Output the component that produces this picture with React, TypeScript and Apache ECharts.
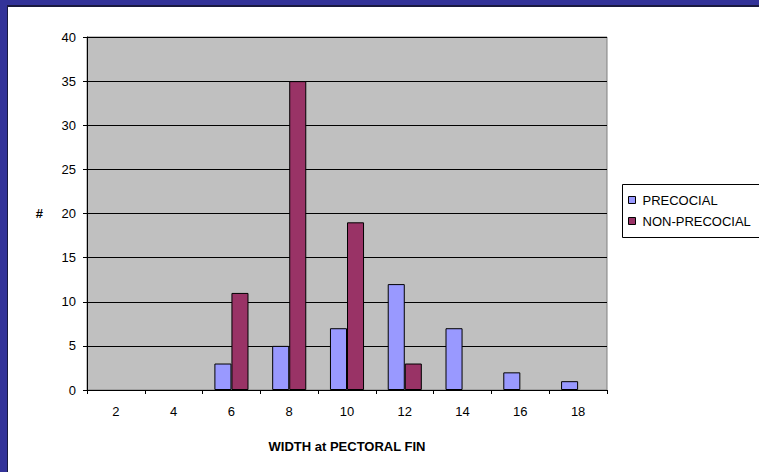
import React, { useEffect, useRef } from "react";
import * as echarts from "echarts";

const categories = ["2", "4", "6", "8", "10", "12", "14", "16", "18"];
const precocial = [0, 0, 3, 5, 7, 12, 7, 2, 1];
const nonPrecocial = [0, 0, 11, 35, 19, 3, 0, 0, 0];
const seriesNames = ["PRECOCIAL", "NON-PRECOCIAL"];
const xTitle = "WIDTH at PECTORAL FIN";
const yTitle = "#";

const FONT = "Arial, 'Liberation Sans', sans-serif";

const toData = (arr: number[]) =>
  arr.map((v) => (v === 0 ? { value: v, itemStyle: { borderWidth: 0, opacity: 0 } } : v));

export default function App() {
  const ref = useRef<HTMLDivElement>(null);
  useEffect(() => {
    if (!ref.current) return;
    const chart = echarts.init(ref.current, null, { renderer: "svg" });
    chart.setOption({
      animation: false,
      backgroundColor: "#ffffff",
      textStyle: { fontFamily: FONT },
      grid: {
        left: 87,
        right: 152,
        top: 37,
        bottom: 82,
        show: true,
        backgroundColor: "#C0C0C0",
        borderColor: "#808080",
        borderWidth: 1,
        containLabel: false,
      },
      legend: {
        orient: "vertical",
        left: 628,
        top: 193,
        padding: 0,
        itemWidth: 7,
        itemHeight: 7,
        itemGap: 7,
        icon: "rect",
        data: seriesNames,
        textStyle: {
          fontFamily: FONT,
          fontSize: 13,
          color: "#000",
          padding: [0, 0, 0, 2],
          lineHeight: 14,
        },
        itemStyle: { borderColor: "#000", borderWidth: 1, opacity: 1 },
      },
      xAxis: {
        type: "category",
        data: categories,
        boundaryGap: true,
        name: xTitle,
        nameLocation: "middle",
        nameGap: 50,
        nameTextStyle: { fontFamily: FONT, fontSize: 13, fontWeight: "bold", color: "#000" },
        axisLine: { show: true, lineStyle: { color: "#000", width: 1 } },
        axisTick: { show: true, alignWithLabel: false, length: 4, lineStyle: { color: "#000" } },
        axisLabel: { fontFamily: FONT, fontSize: 13, color: "#000", margin: 15 },
        splitLine: { show: false },
      },
      yAxis: {
        type: "value",
        min: 0,
        max: 40,
        interval: 5,
        name: yTitle,
        nameLocation: "middle",
        nameGap: 44,
        nameRotate: 0,
        nameTextStyle: { fontFamily: FONT, fontSize: 13, fontWeight: "bold", color: "#000" },
        axisLine: { show: true, lineStyle: { color: "#000", width: 1 } },
        axisTick: { show: true, inside: false, length: 4, lineStyle: { color: "#000" } },
        axisLabel: { fontFamily: FONT, fontSize: 13, color: "#000", margin: 11 },
        splitLine: { show: true, lineStyle: { color: "#000", width: 1 } },
      },
      series: [
        {
          name: seriesNames[0],
          type: "bar",
          data: toData(precocial),
          barGap: "0%",
          barCategoryGap: "41%",
          itemStyle: { color: "#9999FF", borderColor: "#000", borderWidth: 1 },
        },
        {
          name: seriesNames[1],
          type: "bar",
          data: toData(nonPrecocial),
          barGap: "0%",
          barCategoryGap: "41%",
          itemStyle: { color: "#993366", borderColor: "#000", borderWidth: 1 },
        },
      ],
      graphic: [
        {
          type: "rect",
          z: 1,
          shape: { x: 622.5, y: 184.5, width: 200, height: 53 },
          style: { fill: "#ffffff", stroke: "#000", lineWidth: 1 },
        },
        {
          type: "rect",
          z: 10,
          shape: { x: 0, y: 0, width: 759, height: 5 },
          style: { fill: "#333399" },
        },
        {
          type: "rect",
          z: 10,
          shape: { x: 0, y: 5, width: 759, height: 2 },
          style: { fill: "#1a1a40" },
        },
        {
          type: "rect",
          z: 10,
          shape: { x: 0, y: 0, width: 7, height: 472 },
          style: { fill: "#333399" },
        },
        {
          type: "rect",
          z: 10,
          shape: { x: 7, y: 5, width: 1, height: 467 },
          style: { fill: "#1a1a40" },
        },
      ],
    });
    return () => chart.dispose();
  }, []);
  return (
    <div
      ref={ref}
      style={{ position: "absolute", left: 0, top: 0, width: 759, height: 472 }}
    />
  );
}
